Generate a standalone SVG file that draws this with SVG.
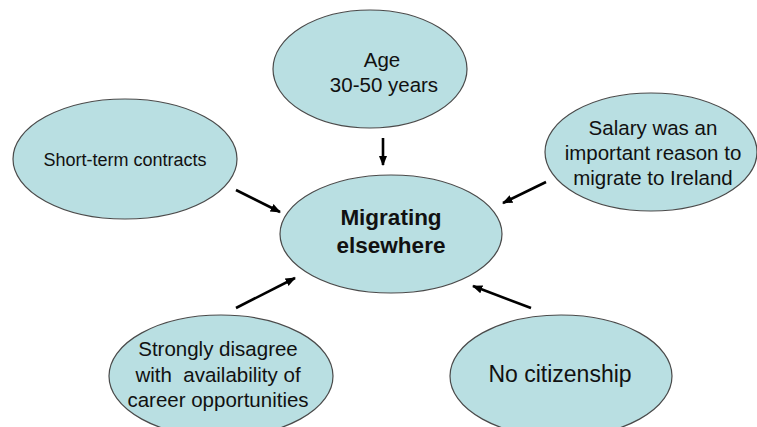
<svg xmlns="http://www.w3.org/2000/svg" width="757" height="427" viewBox="0 0 757 427">
<style>
.n{fill:#b9dfe2;stroke:#4a4a4a;stroke-width:1.2}
.t{font-family:"Liberation Sans",Arial,sans-serif;fill:#111;text-anchor:middle}
.c{stroke:#000;stroke-width:2.6;fill:none;marker-end:url(#ah)}
</style>
<defs>
<marker id="ah" viewBox="0 0 10 10" refX="9" refY="5" markerWidth="4" markerHeight="4" orient="auto" markerUnits="strokeWidth">
<path d="M0,1 L10,5 L0,9 z" fill="#000"/>
</marker>
</defs>
<rect width="757" height="427" fill="#fff"/>
<g id="connectors">
<line class="c" x1="383" y1="138" x2="383" y2="165"/>
<line class="c" x1="236" y1="190" x2="280" y2="212"/>
<line class="c" x1="546" y1="182" x2="503" y2="203"/>
<line class="c" x1="531" y1="308" x2="473" y2="286"/>
<line class="c" x1="236" y1="308" x2="295" y2="278"/>
</g>
<g id="age">
<ellipse class="n" cx="370" cy="69" rx="97" ry="59"/>
<text class="t" font-size="20.5" x="382" y="67">Age</text>
<text class="t" font-size="20.5" x="384" y="92">30-50 years</text>
</g>
<g id="short-term">
<ellipse class="n" cx="125" cy="159" rx="112" ry="60"/>
<text class="t" font-size="18" x="125" y="166">Short-term contracts</text>
</g>
<g id="salary">
<ellipse class="n" cx="651" cy="152" rx="106" ry="59"/>
<text class="t" font-size="20.5" x="653" y="135">Salary was an</text>
<text class="t" font-size="20.5" x="653" y="160">important reason to</text>
<text class="t" font-size="20.5" x="653" y="185">migrate to Ireland</text>
</g>
<g id="center">
<ellipse class="n" cx="391" cy="234" rx="111" ry="59"/>
<text class="t" font-size="22.5" font-weight="bold" x="391" y="225">Migrating</text>
<text class="t" font-size="22.5" font-weight="bold" x="391" y="253">elsewhere</text>
</g>
<g id="strongly">
<ellipse class="n" cx="221" cy="376" rx="112" ry="61"/>
<text class="t" font-size="20.5" x="218" y="356">Strongly disagree</text>
<text class="t" font-size="20.5" x="218" y="382" xml:space="preserve">with  availability of</text>
<text class="t" font-size="20.5" x="218" y="407">career opportunities</text>
</g>
<g id="citizenship">
<ellipse class="n" cx="561" cy="376" rx="111" ry="61"/>
<text class="t" font-size="23" x="560" y="382">No citizenship</text>
</g>
</svg>
